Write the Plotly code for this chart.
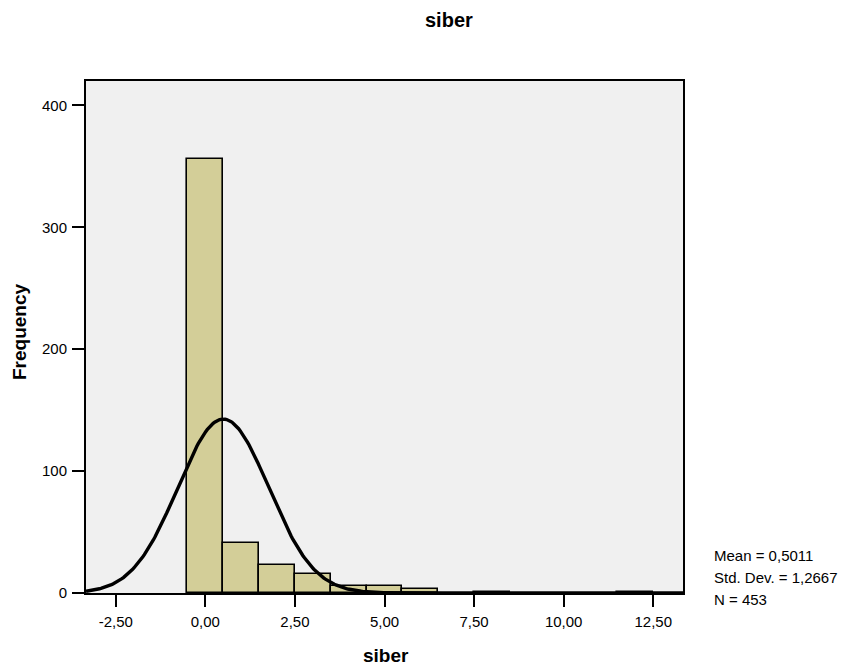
import numpy as np
import plotly.graph_objects as go

# Histogram data (bin centers, width 1)
bin_centers = [0, 1, 2, 3, 4, 5, 6, 8, 12]
counts = [356, 41, 23, 16, 6, 6, 3, 1, 1]
bin_width = 1.0

x_tickvals = [-2.5, 0, 2.5, 5, 7.5, 10, 12.5]
x_ticktext = ["-2,50", "0,00", "2,50", "5,00", "7,50", "10,00", "12,50"]
y_tickvals = [0, 100, 200, 300, 400]

n = sum(counts)
mean = sum(c * x for c, x in zip(counts, bin_centers)) / n
var = (sum(c * x * x for c, x in zip(counts, bin_centers)) - n * mean ** 2) / (n - 1)
sd = var ** 0.5

xmin, xmax = -3.33, 13.33
xs = np.linspace(xmin, xmax, 400)
ys = n * bin_width / (sd * np.sqrt(2 * np.pi)) * np.exp(-0.5 * ((xs - mean) / sd) ** 2)

# page has an 8px body margin; figure is sized to fit the window
OFF = 8
W, H = 840, 664
ML, MR, MT, MB = 78, 165, 73, 79
pw, ph = W - ML - MR, H - MT - MB


def px(xs_, ys_):
    return (xs_ - OFF - ML) / pw, (H - MB - (ys_ - OFF)) / ph


fnt = "Liberation Sans, Arial, sans-serif"

fig = go.Figure()
fig.add_trace(go.Bar(
    x=bin_centers, y=counts, width=bin_width,
    marker=dict(color="#D3CE98", line=dict(color="black", width=1.6)),
    hoverinfo="x+y"))
fig.add_trace(go.Scatter(x=xs, y=ys, mode="lines",
                         line=dict(color="black", width=3.4), hoverinfo="skip"))

annots = []
tx, ty = px(449, 20)
annots.append(dict(text="<b>siber</b>", x=tx, y=ty, xanchor="center", yanchor="middle",
                   font=dict(size=20)))
tx, ty = px(386, 655)
annots.append(dict(text="<b>siber</b>", x=tx, y=ty, xanchor="center", yanchor="middle",
                   font=dict(size=19)))
tx, ty = px(19, 332)
annots.append(dict(text="<b>Frequency</b>", x=tx, y=ty, xanchor="center", yanchor="middle",
                   textangle=-90, font=dict(size=19)))
stats = ["Mean = %s" % ("%.4f" % mean).replace(".", ","),
         "Std. Dev. = %s" % ("%.4f" % sd).replace(".", ","),
         "N = %d" % n]
for txt, yy in zip(stats, [555, 577, 599]):
    tx, ty = px(712, yy)
    annots.append(dict(text=txt, x=tx, y=ty, xanchor="left", yanchor="middle",
                       font=dict(size=15)))
for a in annots:
    a.update(xref="paper", yref="paper", showarrow=False)

fig.update_layout(
    width=W, height=H,
    margin=dict(l=ML, r=MR, t=MT, b=MB, pad=0),
    paper_bgcolor="white", plot_bgcolor="#F0F0F0",
    showlegend=False, bargap=0,
    font=dict(family=fnt, size=15, color="black"),
    xaxis=dict(range=[xmin, xmax], tickvals=x_tickvals, ticktext=x_ticktext,
               ticks="outside", ticklen=12, tickwidth=2, tickcolor="black",
               ticklabelstandoff=2,
               showgrid=False, zeroline=False, showline=True, linecolor="black",
               linewidth=2, mirror=True, tickfont=dict(size=15)),
    yaxis=dict(range=[0, 420], tickvals=y_tickvals,
               ticks="outside", ticklen=12, tickwidth=2, tickcolor="black",
               ticklabelstandoff=2,
               showgrid=False, zeroline=False, showline=True, linecolor="black",
               linewidth=2, mirror=True, tickfont=dict(size=15)),
    annotations=annots,
)
fig.write_html("out.html")
